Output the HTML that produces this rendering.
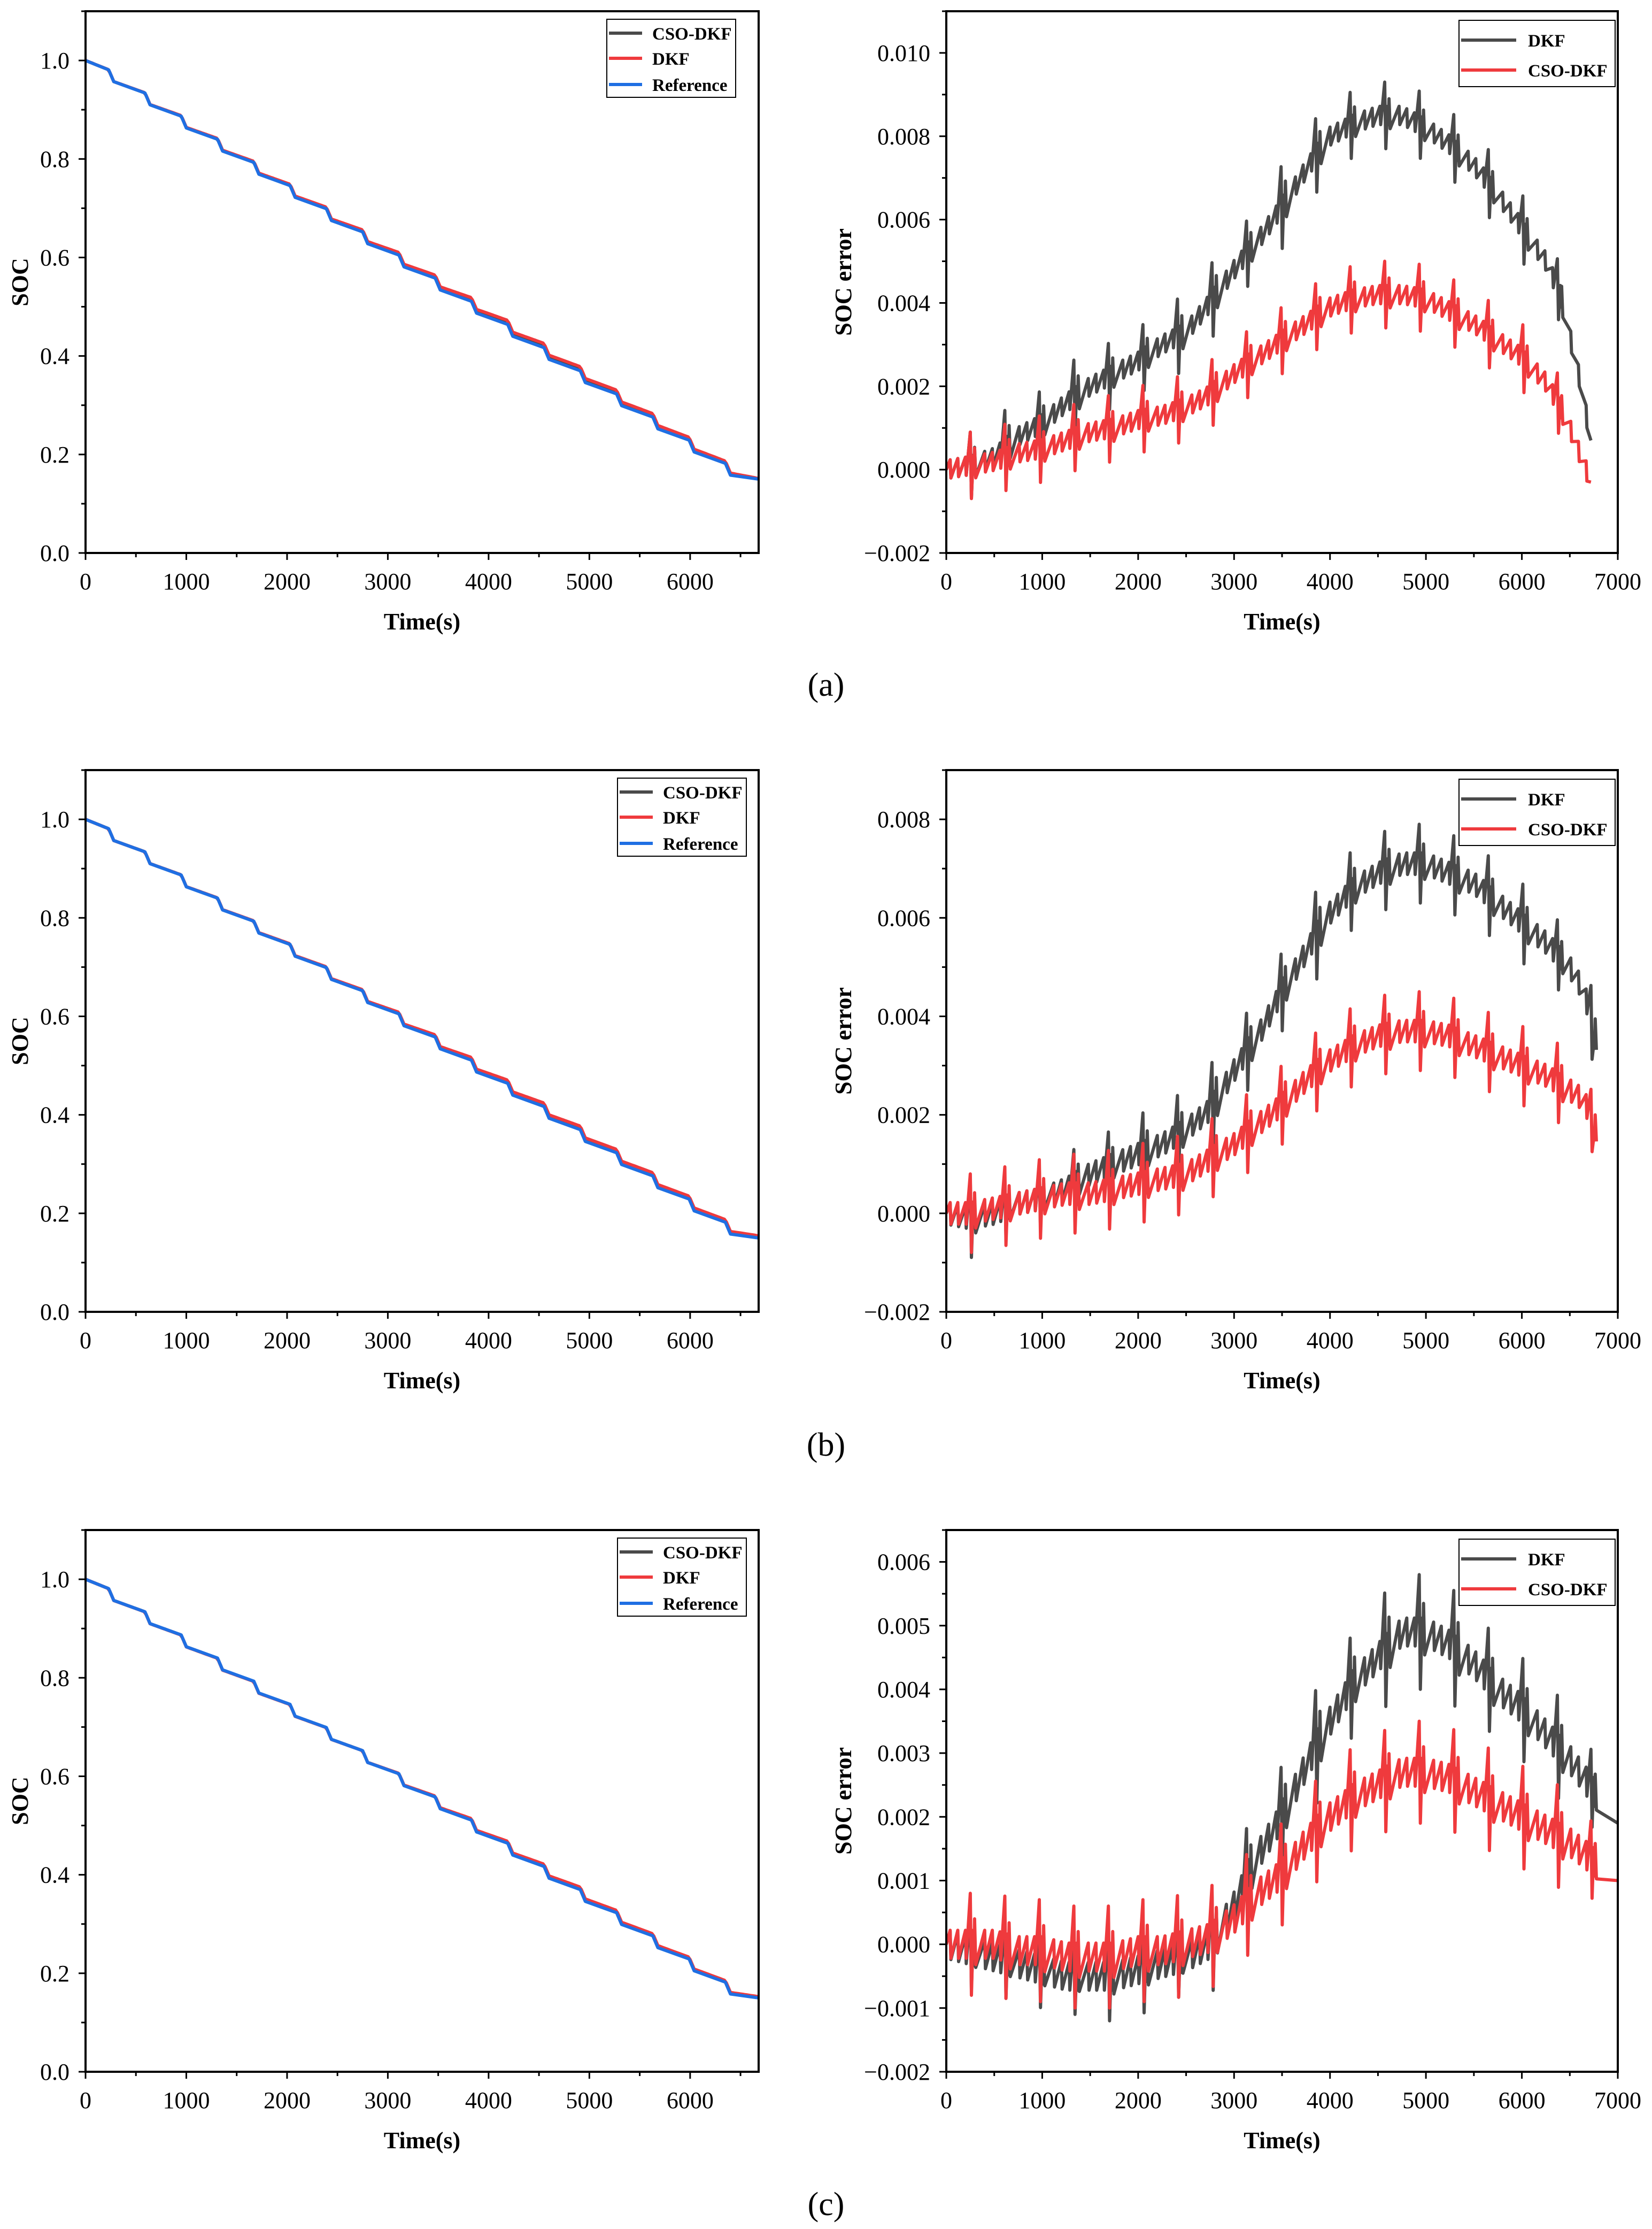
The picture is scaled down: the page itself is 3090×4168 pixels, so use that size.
<!DOCTYPE html>
<html><head><meta charset="utf-8">
<style>
html,body{margin:0;padding:0;background:#fff;}
svg{display:block;}
text{font-family:"Liberation Serif",serif;fill:#000;}
</style></head>
<body>
<svg id="fig" width="3090" height="4168" viewBox="0 0 3090 4168" xmlns="http://www.w3.org/2000/svg"></svg>
<script>
// ---------- DATA ----------
const dropTimes = [250,610,970,1330,1690,2050,2410,2770,3130,3490,3850,4210,4570,4930,5290,5650,6010,6370];
const socPre  = [0.981,0.934,0.887,0.840,0.793,0.746,0.699,0.652,0.605,0.558,0.511,0.464,0.417,0.370,0.323,0.276,0.229,0.182];
const socPost = [0.957,0.910,0.863,0.816,0.769,0.722,0.675,0.628,0.581,0.534,0.487,0.440,0.393,0.346,0.299,0.252,0.205,0.158];
const socStart = 1.0, socEndTime = 6680, socEnd = 0.150;

const errTimeA = [0,250,500,750,1000,1250,1500,1750,2000,2250,2500,2750,3000,3250,3500,3750,4000,4250,4500,4750,5000,5250,5500,5750,6000,6250,6400,6500,6600,6720];
const dkfErrA  = [0,0.0001,0.0003,0.0008,0.0011,0.0016,0.0020,0.0023,0.0026,0.0030,0.0033,0.0040,0.0048,0.0055,0.0063,0.0072,0.0080,0.0083,0.0085,0.0085,0.0082,0.0078,0.0073,0.0066,0.0058,0.0050,0.0042,0.0032,0.0022,0.0007];
const csoErrA  = [0,0.0001,0.0002,0.0004,0.0005,0.0007,0.0009,0.0010,0.0012,0.0013,0.0015,0.0018,0.0023,0.0027,0.0031,0.0035,0.0039,0.0041,0.0042,0.0042,0.0041,0.0038,0.0035,0.0031,0.0027,0.0021,0.0015,0.0010,0.0004,-0.0003];
const errTimeB = [0,250,500,750,1000,1250,1500,1750,2000,2250,2500,2750,3000,3250,3500,3750,4000,4250,4500,4750,5000,5250,5500,5750,6000,6250,6500,6650,6760];
const dkfErrB  = [0,-0.0001,0.0000,0.0002,0.0003,0.0005,0.0008,0.0010,0.0012,0.0014,0.0017,0.0021,0.0029,0.0036,0.0045,0.0053,0.0061,0.0066,0.0069,0.0071,0.0071,0.0069,0.0067,0.0063,0.0059,0.0055,0.0050,0.0045,0.0036];
const csoErrB  = [0,0.0000,0.0001,0.0002,0.0003,0.0004,0.0004,0.0005,0.0006,0.0007,0.0008,0.0011,0.0014,0.0018,0.0022,0.0027,0.0031,0.0034,0.0036,0.0037,0.0037,0.0036,0.0034,0.0032,0.0030,0.0028,0.0025,0.0023,0.0017];
const errTimeC = [0,250,500,750,1000,1250,1500,1750,2000,2250,2500,2750,3000,3250,3500,3750,4000,4250,4500,4750,5000,5250,5500,5750,6000,6250,6500,6750,7000];
const dkfErrC  = [0,-0.0001,-0.0002,-0.0003,-0.0004,-0.0005,-0.0005,-0.0005,-0.0004,-0.0003,-0.0002,0.0000,0.0006,0.0014,0.0020,0.0028,0.0035,0.0041,0.0045,0.0049,0.0049,0.0047,0.0044,0.0040,0.0037,0.0033,0.0029,0.0024,0.0019];
const csoErrC  = [0,0.0000,0.0000,-0.0001,-0.0001,-0.0002,-0.0002,-0.0002,-0.0001,-0.0001,0.0000,0.0001,0.0004,0.0008,0.0011,0.0016,0.0020,0.0023,0.0025,0.0027,0.0027,0.0026,0.0024,0.0022,0.0020,0.0018,0.0016,0.0013,0.0010];
const spikeTimes = [250,610,970,1330,1690,2050,2410,2770,3130,3490,3850,4210,4570,4930,5290,5650,6010,6370,6720];
const dkfSpikeA = [0.0008,0.0009,0.0008,0.0009,0.0008,0.0008,0.0009,0.0009,0.0008,0.0010,0.0009,0.0008,0.0008,0.0008,0.0008,0.0008,0.0008,0.0007,0.0000];
const csoSpikeA = [0.0008,0.0008,0.0008,0.0008,0.0008,0.0008,0.0008,0.0008,0.0008,0.0008,0.0008,0.0008,0.0008,0.0008,0.0008,0.0008,0.0008,0.0007,0.0000];
const dkfSpikeB = [0.0008,0.0006,0.0006,0.0007,0.0007,0.0008,0.0008,0.0009,0.0008,0.0008,0.0009,0.0008,0.0008,0.0008,0.0008,0.0008,0.0008,0.0007,0.0007];
const csoSpikeB = [0.0008,0.0008,0.0008,0.0008,0.0008,0.0008,0.0008,0.0008,0.0008,0.0008,0.0008,0.0008,0.0008,0.0008,0.0008,0.0008,0.0008,0.0008,0.0006];
const dkfSpikeC = [0.0006,0.0006,0.0006,0.0006,0.0007,0.0007,0.0006,0.0008,0.0008,0.0008,0.0009,0.0008,0.0009,0.0009,0.0009,0.0008,0.0008,0.0008,0.0006];
const csoSpikeC = [0.0008,0.0008,0.0008,0.0008,0.0008,0.0008,0.0008,0.0008,0.0008,0.0008,0.0008,0.0008,0.0008,0.0008,0.0008,0.0008,0.0008,0.0008,0.0006];
const rippleAmp = 0.00022;
const rippleTimes = [90,170,250,330];
const socTicks = ["0.0","0.2","0.4","0.6","0.8","1.0"];
const timeTicksL = ["0","1000","2000","3000","4000","5000","6000"];
const timeTicksR = ["0","1000","2000","3000","4000","5000","6000","7000"];
const errTicksA = ["\u22120.002","0.000","0.002","0.004","0.006","0.008","0.010"];
const errTicksB = ["\u22120.002","0.000","0.002","0.004","0.006","0.008"];
const errTicksC = ["\u22120.002","\u22120.001","0.000","0.001","0.002","0.003","0.004","0.005","0.006"];

// ---------- helpers ----------
const NS="http://www.w3.org/2000/svg";
const svg=document.getElementById('fig');
const GRAY="#4a4a4a", RED="#ef3a3d", BLUE="#1f6fe3";
function mk(tag,attrs,parent){const e=document.createElementNS(NS,tag);for(const k in attrs)e.setAttribute(k,attrs[k]);(parent||svg).appendChild(e);return e;}
function txt(s,attrs,parent){const e=mk('text',attrs,parent);e.textContent=s;return e;}
function interp(ts,vs,t){if(t<=ts[0])return vs[0];for(let i=1;i<ts.length;i++){if(t<=ts[i]){const f=(t-ts[i-1])/(ts[i]-ts[i-1]);return vs[i-1]+f*(vs[i]-vs[i-1]);}}return vs[vs.length-1];}
function refPoints(){const p=[[0,socStart]];for(let k=0;k<dropTimes.length;k++){p.push([dropTimes[k]-20,socPre[k]]);p.push([dropTimes[k]+30,socPost[k]]);}p.push([socEndTime,socEnd]);return p;}
function refAt(t){const p=refPoints();return interp(p.map(a=>a[0]),p.map(a=>a[1]),t);}

const TOPS=[21,1440,2861], H=1013;
function makeAxes(g,x0,x1,top,xmax,ymin,ymax,yTickLabels,yStep,yMinor,xTickLabels,xMinor,ylabel,prefix){
  const bot=top+H;
  const X=v=>x0+(v/xmax)*(x1-x0);
  const Y=v=>bot-(v-ymin)/(ymax-ymin)*H;
  for(let v=0;v<=xmax+1e-9;v+=xMinor){const t=mk('line',{x1:X(v),x2:X(v),y1:bot,y2:bot+(Math.abs(v%1000)<1e-6?13:8),stroke:'#000','stroke-width':3},g);}
  for(let v=ymin;v<=ymax+1e-9;v+=yMinor){const major=Math.abs(((v-ymin)/yStep)-Math.round((v-ymin)/yStep))<1e-6;const t=mk('line',{x1:x0-(major?13:8),x2:x0,y1:Y(v),y2:Y(v),stroke:'#000','stroke-width':3},g);}
  xTickLabels.forEach((s,i)=>{const e=txt(s,{x:X(i*1000),y:bot+68,'font-size':44,'text-anchor':'middle'},g);});
  yTickLabels.forEach((s,i)=>{const e=txt(s,{x:x0-30,y:Y(ymin+i*yStep)+15,'font-size':44,'text-anchor':'end'},g);});
  const xt=txt('Time(s)',{x:(x0+x1)/2,y:bot+143,'font-size':44,'font-weight':'bold','text-anchor':'middle'},g);
  
  const lx = ylabel==='SOC'?52:1592;
  const yt=txt(ylabel,{x:lx,y:top+H/2,'font-size':44,'font-weight':'bold','text-anchor':'middle',transform:`rotate(-90 ${lx} ${top+H/2})`},g);
  
  return {X,Y,bot};
}
function frame(g,x0,x1,top,prefix){const r=mk('rect',{x:x0,y:top,width:x1-x0,height:H,fill:'none',stroke:'#000','stroke-width':4},g);}
function poly(g,pts,color,w,name){const p=mk('polyline',{points:pts.map(a=>a[0].toFixed(1)+','+a[1].toFixed(1)).join(' '),fill:'none',stroke:color,'stroke-width':w,'stroke-linejoin':'round'},g);return p;}
function legend(g,x,top,w,h,entries,prefix){
  const box=mk('rect',{x:x,y:top,width:w,height:h,fill:'#fff',stroke:'#000','stroke-width':2},g);
  
  entries.forEach(en=>{
    const l=mk('line',{x1:x+4,x2:x+en.len,y1:en.y,y2:en.y,stroke:en.c,'stroke-width':6},g);
    
    const t=txt(en.s,{x:x+en.tx,y:en.y+12,'font-size':33,'font-weight':'bold'},g);
    
  });
}
function errSeries(times,vals,spA){
  const pts=[];const tEnd=times[times.length-1];
  const events=[[0,0]];
  spikeTimes.forEach((st,i)=>{
    if(st<tEnd-10&&spA[i]>0){events.push([st,spA[i]]);events.push([st+12,-spA[i]]);events.push([st+45,spA[i]*0.5]);events.push([st+57,-spA[i]*0.4]);}
    rippleTimes.forEach(rt=>{const t=st-360+rt+60;if(t>20&&t<tEnd-10){events.push([t,rippleAmp]);events.push([t+8,-rippleAmp]);}});
  });
  events.push([tEnd,0]);
  events.sort((a,b)=>a[0]-b[0]);
  events.forEach(e=>{const b=interp(times,vals,e[0]);pts.push([e[0],b+e[1]]);});
  return pts;
}

// ---------- build panels ----------
const rows=[
 {key:'a',errT:errTimeA,dkf:dkfErrA,cso:csoErrA,dS:dkfSpikeA,cS:csoSpikeA,ymax:0.011,ticks:errTicksA,yStep:0.002,yMinor:0.001,legL:1135,lab:'(a)',labY:1301},
 {key:'b',errT:errTimeB,dkf:dkfErrB,cso:csoErrB,dS:dkfSpikeB,cS:csoSpikeB,ymax:0.009,ticks:errTicksB,yStep:0.002,yMinor:0.001,legL:1155,lab:'(b)',labY:2722},
 {key:'c',errT:errTimeC,dkf:dkfErrC,cso:csoErrC,dS:dkfSpikeC,cS:csoSpikeC,ymax:0.0065,ticks:errTicksC,yStep:0.001,yMinor:0.0005,legL:1155,lab:'(c)',labY:4142}
];
rows.forEach((r,ri)=>{
  const top=TOPS[ri];
  const gl=mk('g',{});
  const axL=makeAxes(gl,160,1419,top,6680,0,1.1,socTicks,0.2,0.1,timeTicksL,500,'SOC','soc-'+r.key);
  const ref=refPoints();
  const clipId='clipL'+r.key;
  const cp=mk('clipPath',{id:clipId},gl);mk('rect',{x:160,y:top,width:1259,height:H},cp);
  const gs=mk('g',{'clip-path':`url(#${clipId})`},gl);
  const samp=[];for(let t=0;t<=6680;t+=20)samp.push(t);
  const csoSoc=samp.map(t=>[axL.X(t),axL.Y(refAt(t)+interp(r.errT,r.cso,t))]);
  const dkfSoc=samp.map(t=>[axL.X(t),axL.Y(refAt(t)+interp(r.errT,r.dkf,t))]);
  poly(gs,csoSoc,GRAY,6,'cso-dkf-soc-line-'+r.key);
  poly(gs,dkfSoc,RED,6,'dkf-soc-line-'+r.key);
  poly(gs,ref.map(p=>[axL.X(p[0]),axL.Y(p[1])]),BLUE,6,'reference-soc-line-'+r.key);
  frame(gl,160,1419,top,'soc-'+r.key);
  legend(gl,r.legL,top+15,241,146,[{s:'CSO-DKF',c:GRAY,y:top+41,len:66,tx:85},{s:'DKF',c:RED,y:top+88,len:66,tx:85},{s:'Reference',c:BLUE,y:top+137,len:66,tx:85}],'soc-'+r.key);

  const gr=mk('g',{});
  const axR=makeAxes(gr,1770,3026,top,7000,-0.002,r.ymax,r.ticks,r.yStep,r.yMinor,timeTicksR,500,'SOC error','err-'+r.key);
  const clipR='clipR'+r.key;
  const cr=mk('clipPath',{id:clipR},gr);mk('rect',{x:1770,y:top,width:1256,height:H},cr);
  const ge=mk('g',{'clip-path':`url(#${clipR})`},gr);
  poly(ge,errSeries(r.errT,r.dkf,r.dS).map(p=>[axR.X(p[0]),axR.Y(p[1])]),GRAY,6,'dkf-error-line-'+r.key);
  poly(ge,errSeries(r.errT,r.cso,r.cS).map(p=>[axR.X(p[0]),axR.Y(p[1])]),RED,6,'cso-dkf-error-line-'+r.key);
  frame(gr,1770,3026,top,'err-'+r.key);
  legend(gr,2729,top+17,292,124,[{s:'DKF',c:GRAY,y:top+54,len:107,tx:129},{s:'CSO-DKF',c:RED,y:top+110,len:107,tx:129}],'err-'+r.key);

  const lb=txt(r.lab,{x:1545,y:r.labY,'font-size':62,'text-anchor':'middle'});
  
});
</script>
</body></html>
